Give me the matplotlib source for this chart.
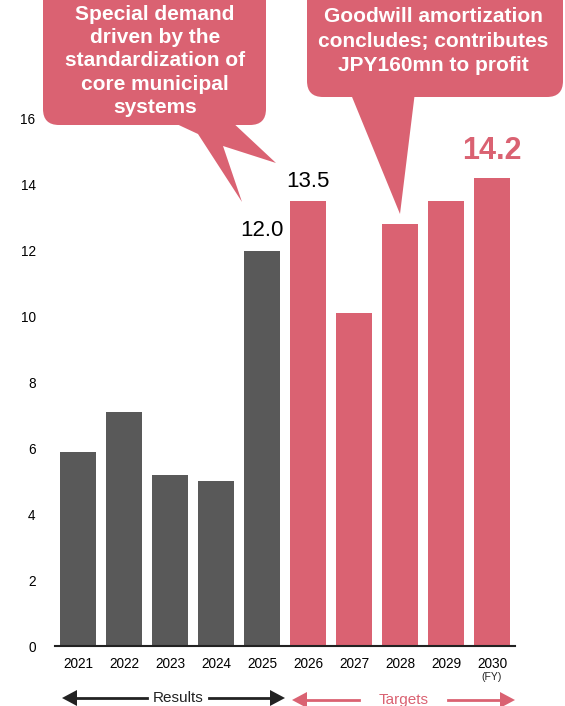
import matplotlib.pyplot as plt
import numpy as np
from matplotlib.patches import FancyBboxPatch, Polygon
from matplotlib.transforms import Affine2D

plt.rcParams['font.family'] = ['Liberation Sans', 'DejaVu Sans']

########################################
# Data
########################################
years       = ['2021', '2022', '2023', '2024', '2025',
               '2026', '2027', '2028', '2029', '2030']
values      = [5.9, 7.1, 5.2, 5.0, 12.0, 13.5, 10.1, 12.8, 13.5, 14.2]
is_target   = [False] * 5 + [True] * 5
y_ticks     = [0, 2, 4, 6, 8, 10, 12, 14, 16]
labelled    = {4: '12.0', 5: '13.5'}
highlight   = {9: '14.2'}

GRAY    = '#595959'
PINK    = '#DA6272'

########################################
# Figure / axes
########################################
W, H = 565, 706
fig = plt.figure(figsize=(W / 100, H / 100), dpi=100)
ax = fig.add_axes([55 / W, 1 - 646 / H, 460 / W, (646 - 119) / H])

# pixel coordinates measured from the top-left corner
px = Affine2D().scale(0.01, -0.01).translate(0, H / 100) + fig.dpi_scale_trans

x = np.arange(len(years))
colors = [PINK if t else GRAY for t in is_target]
ax.bar(x, values, width=0.78, color=colors, zorder=2)

ax.set_xlim(-0.5, len(years) - 0.5)
ax.set_ylim(0, 16)
ax.set_yticks(y_ticks)
ax.set_xticks(x)
ax.set_xticklabels(years)
ax.tick_params(axis='both', length=0, labelsize=9.8)
ax.tick_params(axis='x', pad=8)
ax.tick_params(axis='y', pad=14)
for s in ['top', 'right', 'left']:
    ax.spines[s].set_visible(False)
ax.spines['bottom'].set_color('#222222')
ax.spines['bottom'].set_linewidth(1.5)

# value labels
for i, txt in labelled.items():
    ax.annotate(txt, (x[i], values[i]), xytext=(0, 7), textcoords='offset points',
                ha='center', va='bottom', fontsize=16, color='black')
for i, txt in highlight.items():
    ax.annotate(txt, (x[i], values[i]), xytext=(0, 9), textcoords='offset points',
                ha='center', va='bottom', fontsize=22, fontweight='bold', color=PINK)

ax.text(x[-1], -0.8, '(FY)', ha='center', va='top', fontsize=7.5, color='#222222')

########################################
# Callouts
########################################
def callout(x0, y0, x1, y1, tail, text, cx, cy, spacing):
    box = FancyBboxPatch((x0, y0), x1 - x0, y1 - y0,
                         boxstyle='round,pad=0,rounding_size=16',
                         transform=px, facecolor=PINK, edgecolor='none',
                         clip_on=False, zorder=5)
    fig.patches.append(box)
    fig.patches.append(Polygon(tail, closed=True, transform=px, facecolor=PINK,
                               edgecolor='none', clip_on=False, zorder=5))
    fig.text(cx, cy, text, transform=px, ha='center', va='center',
             fontsize=15, fontweight='bold', color='white',
             linespacing=spacing, zorder=6)

callout(43, -40, 266, 125,
        [(168, 120), (198, 134), (242, 202), (223, 146), (276, 163), (230, 120)],
        'Special demand\ndriven by the\nstandardization of\ncore municipal\nsystems',
        155, 61, 1.27)

callout(307, -40, 563, 97,
        [(350, 92), (400, 214), (415, 92)],
        'Goodwill amortization\nconcludes; contributes\nJPY160mn to profit',
        433, 41, 1.38)

########################################
# Results / Targets arrows
########################################
def span_arrow(xl, xr, gap_l, gap_r, y, label, color):
    hl, hw = 15, 8
    fig.patches.append(Polygon([(xl, y), (xl + hl, y - hw), (xl + hl, y + hw)],
                               closed=True, transform=px, facecolor=color,
                               edgecolor='none', clip_on=False))
    fig.patches.append(Polygon([(xr, y), (xr - hl, y - hw), (xr - hl, y + hw)],
                               closed=True, transform=px, facecolor=color,
                               edgecolor='none', clip_on=False))
    fig.lines.append(plt.Line2D([xl + hl, gap_l], [y, y], transform=px,
                                color=color, lw=2))
    fig.lines.append(plt.Line2D([gap_r, xr - hl], [y, y], transform=px,
                                color=color, lw=2))
    fig.text((gap_l + gap_r) / 2, y, label, transform=px, ha='center',
             va='center', fontsize=11, color=color)

span_arrow(62, 285, 147, 209, 698, 'Results', '#222222')
span_arrow(292, 515, 359, 448, 700, 'Targets', PINK)

fig.savefig('out.png', dpi=100)
